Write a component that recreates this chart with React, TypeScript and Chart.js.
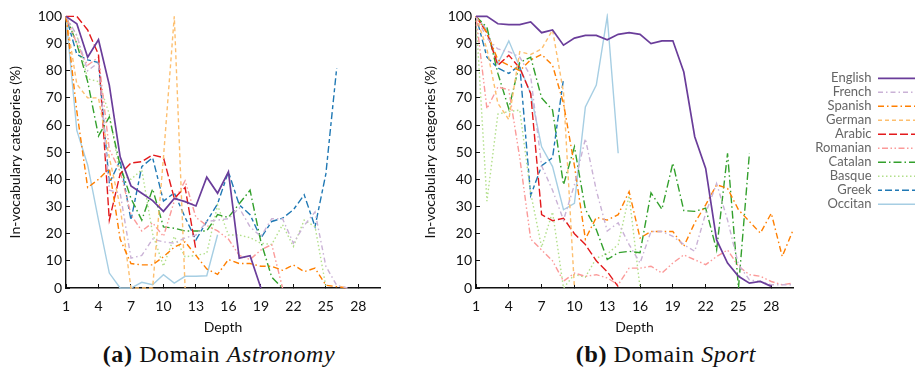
import React, { useEffect, useRef } from 'react';
import { Chart, registerables } from 'chart.js';

Chart.register(...registerables);

// ---- categories / ticks ----
const languages = ['English', 'French', 'Spanish', 'German', 'Arabic', 'Romanian', 'Catalan', 'Basque', 'Greek', 'Occitan'];
const depthTicks = [1, 4, 7, 10, 13, 16, 19, 22, 25, 28];
const percentTicks = [0, 10, 20, 30, 40, 50, 60, 70, 80, 90, 100];

// ---- (a) Astronomy: values for depth 1, 2, 3, ... ----
const englishA = [100, 97.3, 85, 91.4, 74.7, 48.3, 37.6, 34.9, 32.2, 28.2, 33, 31.8, 30.2, 40.8, 34.9, 42.8, 11, 11.9, 0];
const frenchA = [100, 93, 80, 83, 36, 35, 11, 12, 18, 17, 16.5, 18.5, 19.5, 24.5, 25, 25.5, 29.5, 22.5, 19, 25.5, 25.5, 16.5, 23, 28, 8, 1, 0];
const spanishA = [100, 65, 37, 40, 44, 18, 9, 8.5, 8.5, 11.5, 15, 17, 12, 7, 5, 10.5, 9, 9, 8, 8, 6.5, 8.5, 6, 7.3, 1, 0.5, 0];
const germanA = [100, 75, 70, 70, 48, 30, 0, 0, 0, 48, 100, 0];
const arabicA = [100, 100, 95, 86, 25, 42, 46, 46.5, 49, 48, 33, 37, 14];
const romanianA = [100, 90, 82, 85, 51, 43, 27, 21, 24, 19, 32, 39.5, 26, 23, 21, 18, 12, 10.5, 14, 16, 0];
const catalanA = [100, 90, 76, 56, 63, 45, 33, 25, 36.5, 22.5, 22, 21, 21, 21, 27, 26, 31, 36, 17, 4, 0];
const basqueA = [100, 93, 77, 76, 64, 42, 40, 43.5, 20, 8, 19, 11.5, 12, 12.8, 30.5, 19.5, 19.5, 18.5, 16.5, 16, 23.3, 15.3, 25, 22.6, 0.5];
const greekA = [100, 86, 84, 83, 38.5, 47, 25, 44.7, 48, 32, 35, 26, 17.7, 24.5, 31, 42.8, 30.6, 27, 18.4, 24.5, 25.7, 28.8, 34.3, 22.6, 42, 81];
const occitanA = [100, 58, 45.3, 25, 5.5, 0, 0, 2.1, 1.2, 4.9, 1.8, 4.3, 4.3, 4.5, 19.6];

// ---- (b) Sport ----
const englishB = [100, 100, 97.3, 97, 97, 98, 94, 95, 89.4, 92, 93, 93, 91.4, 93.4, 94, 93.4, 90, 91, 91, 79.5, 55.7, 44, 17.7, 9.2, 4.3, 1.8, 2.4, 0.6];
const frenchB = [100, 92, 88, 87, 85, 78, 45, 36, 25, 38, 55, 36, 21, 24, 16, 9.2, 20.8, 20.8, 19, 16, 13.5, 27.5, 38.5, 25, 8.6, 3, 2.4, 1.2, 1.2, 1.2];
const spanishB = [100, 94, 84, 82, 80, 84, 86, 82, 68, 45, 18, 26, 25, 27, 35.5, 18.4, 20.8, 20.8, 20.8, 15.3, 24, 30.6, 38, 36.7, 28.8, 24.5, 20.2, 27.5, 11.6, 21.4];
const germanB = [100, 88, 68, 62, 87, 86, 88, 95, 72, 0];
const arabicB = [100, 94, 82, 85.7, 81, 71.6, 27, 24.8, 25.7, 20, 16, 10, 6, 0.5];
const romanianB = [100, 66, 74, 73, 48, 18, 14, 10, 2.5, 5.5, 4.3, 4.9, 3.7, 1.2, 7.3, 7.3, 8, 5.5, 9.2, 12.2, 10.4, 8.6, 11.6, 14, 8, 4.9, 4.3, 2.4, 1.2, 1.8];
const catalanB = [100, 96, 79, 66, 83, 85, 70, 65.5, 38, 52, 29, 21.5, 10.5, 13, 13.5, 13, 35, 29, 46, 28.5, 28.2, 29.4, 14, 49.6, 0, 49.6];
const basqueB = [100, 32, 64, 65, 65.5, 35, 15, 28, 0, 5, 4, 11, 12.5, 16, 34, 0];
const greekB = [100, 85, 81, 79, 82, 34, 45, 48, 77];
const occitanB = [100, 95, 82.6, 91, 81.4, 71.6, 52, 44.7, 28.8, 31.2, 66.7, 74.7, 100, 49.6];

const seriesA = [englishA, frenchA, spanishA, germanA, arabicA, romanianA, catalanA, basqueA, greekA, occitanA];
const seriesB = [englishB, frenchB, spanishB, germanB, arabicB, romanianB, catalanB, basqueB, greekB, occitanB];

// ---- styles ----
const colors = ['#6a3d9a', '#cab2d6', '#ff7f00', '#fdbf6f', '#e31a1c', '#fb9a99', '#33a02c', '#b2df8a', '#1f78b4', '#a6cee3'];
const dashes = [[], [5, 3, 1.5, 3], [6, 3, 1.5, 3], [4, 3], [8, 3], [1.5, 2.5, 6, 2.5, 1.5, 2.5], [8, 3, 1.5, 3], [1.5, 2.5], [4, 3, 7, 3], []];

const INK = '#111';
const sans = 'Lato';

function makeConfig(series: number[][], withLegend: boolean): any {
  const datasets = series.map((vals, i) => ({
    label: languages[i],
    data: vals.map((v, j) => ({ x: j + 1, y: v })),
    borderColor: colors[i],
    backgroundColor: colors[i],
    borderDash: dashes[i],
    borderWidth: i === 0 ? 1.7 : 1.4,
    pointRadius: 0,
    pointHoverRadius: 0,
    fill: false,
    tension: 0,
    clip: 3,
  }));
  const scales: any = {
    x: {
      type: 'linear',
      min: 1,
      max: 30,
      afterBuildTicks: (s: any) => {
        s.ticks = depthTicks.map((v) => ({ value: v }));
      },
      afterFit: (s: any) => {
        s.height = 52;
      },
      grid: { display: true, drawOnChartArea: false, drawTicks: true, tickLength: -4, color: INK, lineWidth: 1 },
      border: { display: true, color: INK, width: 1.4 },
      ticks: { font: { family: sans, size: 14 }, color: INK, padding: 14, maxRotation: 0, autoSkip: false },
      title: { display: true, text: 'Depth', font: { family: sans, size: 14 }, color: INK, padding: { top: 0, bottom: 4 } },
    },
    y: {
      type: 'linear',
      min: 0,
      max: 100,
      afterBuildTicks: (s: any) => {
        s.ticks = percentTicks.map((v) => ({ value: v }));
      },
      afterFit: (s: any) => {
        s.width = withLegend ? 56 : 66;
      },
      grid: { display: true, drawOnChartArea: false, drawTicks: true, tickLength: -4, color: INK, lineWidth: 1 },
      border: { display: true, color: INK, width: 1.4 },
      ticks: { font: { family: sans, size: 14 }, color: INK, padding: 8, autoSkip: false },
      title: {
        display: true,
        text: 'In-vocabulary categories (%)',
        font: { family: sans, size: 14 },
        color: INK,
        padding: { top: withLegend ? 2 : 7, bottom: 0 },
      },
    },
  };
  if (withLegend) {
    scales.gap = {
      type: 'linear',
      axis: 'y',
      position: 'right',
      display: true,
      afterFit: (s: any) => {
        s.width = 12;
      },
      grid: { display: false, drawTicks: false },
      border: { display: false },
      ticks: { display: false },
    };
  }
  return {
    type: 'line',
    data: { datasets },
    options: {
      responsive: false,
      animation: false,
      events: [],
      scales,
      layout: { padding: withLegend ? { top: 16, right: 2, left: 0, bottom: 0 } : { top: 16, right: 40, left: 0, bottom: 0 } },
      plugins: {
        tooltip: { enabled: false },
        legend: withLegend
          ? {
              display: true,
              position: 'right',
              align: 'start',
              rtl: true,
              maxWidth: 160,
              title: { display: true, text: '', font: { size: 12 }, padding: { top: 20, bottom: 20.4 } },
              labels: {
                usePointStyle: true,
                pointStyleWidth: 37,
                boxHeight: 13,
                padding: 1,
                font: { family: sans, size: 13 },
                color: INK,
                generateLabels: (chart: any) =>
                  chart.data.datasets.map((ds: any, i: number) => ({
                    text: ds.label,
                    strokeStyle: ds.borderColor,
                    fillStyle: ds.borderColor,
                    lineWidth: ds.borderWidth,
                    lineDash: ds.borderDash,
                    pointStyle: 'line',
                    hidden: false,
                    datasetIndex: i,
                  })),
              },
            }
          : { display: false },
      },
    },
  };
}

function Panel({ series, withLegend, width }: { series: number[][]; withLegend: boolean; width: number }) {
  const ref = useRef<HTMLCanvasElement | null>(null);
  useEffect(() => {
    if (!ref.current) return;
    const chart = new Chart(ref.current, makeConfig(series, withLegend));
    return () => chart.destroy();
  }, []);
  return <canvas ref={ref} width={width} height={340} style={{ width, height: 340, display: 'block' }} />;
}

const captionStyle: React.CSSProperties = {
  position: 'absolute',
  top: 341,
  textAlign: 'center',
  fontFamily: '"Liberation Serif", serif',
  fontSize: 24,
  letterSpacing: 0.6,
  color: '#111',
  whiteSpace: 'nowrap',
};

export default function App() {
  return (
    <div style={{ position: 'absolute', left: 0, top: 0, width: 918, height: 373, background: '#fff', overflow: 'hidden' }}>
      <div style={{ position: 'absolute', left: 0, top: 0 }}>
        <Panel series={seriesA} withLegend={false} width={420} />
      </div>
      <div style={{ position: 'absolute', left: 420, top: 0 }}>
        <Panel series={seriesB} withLegend={true} width={498} />
      </div>
      <div style={{ ...captionStyle, left: 0, width: 438 }}>
        <b>(a)</b> Domain <i>Astronomy</i>
      </div>
      <div style={{ ...captionStyle, left: 418, width: 496 }}>
        <b>(b)</b> Domain <i>Sport</i>
      </div>
    </div>
  );
}
